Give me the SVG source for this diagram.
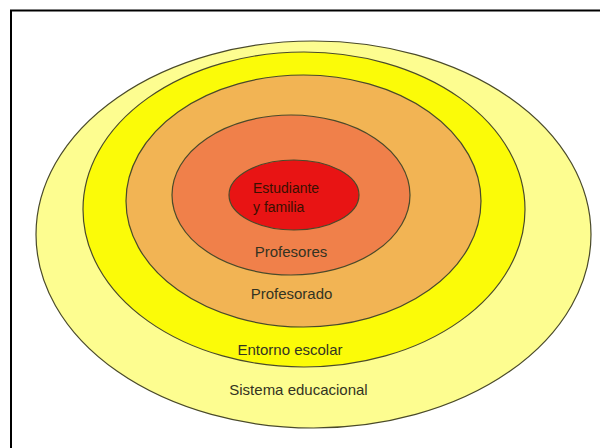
<svg xmlns="http://www.w3.org/2000/svg" width="600" height="448" viewBox="0 0 600 448">
  <style>
    .ring { stroke: #4a4a2a; stroke-width: 1.2; }
    .lbl { font-family: "Liberation Sans", Arial, sans-serif; font-size: 15px; fill: #333322; text-anchor: middle; }
    .inner { font-family: "Liberation Sans", Arial, sans-serif; font-size: 14px; fill: #3a1000; }
  </style>
  <rect x="0" y="0" width="600" height="448" fill="#ffffff"/>
  <rect x="11" y="10.5" width="640" height="480" fill="none" stroke="#000000" stroke-width="2"/>
  <g id="sistema-educacional">
    <ellipse class="ring" cx="313.5" cy="234.5" rx="277.5" ry="193.5" fill="#fdfd90"/>
    <text class="lbl" x="298.5" y="395">Sistema educacional</text>
  </g>
  <g id="entorno-escolar">
    <ellipse class="ring" cx="304" cy="209.5" rx="221" ry="157.5" fill="#fbfb08"/>
    <text class="lbl" x="290" y="355">Entorno escolar</text>
  </g>
  <g id="profesorado">
    <ellipse class="ring" cx="303.5" cy="201" rx="177.5" ry="126" fill="#f2b454"/>
    <text class="lbl" x="291.5" y="299">Profesorado</text>
  </g>
  <g id="profesores">
    <ellipse class="ring" cx="291" cy="195" rx="119" ry="80" fill="#f0804a"/>
    <text class="lbl" x="291" y="257">Profesores</text>
  </g>
  <g id="estudiante-familia">
    <ellipse class="ring" cx="294" cy="195" rx="65" ry="35" fill="#e81414"/>
    <text class="inner" x="253" y="193">Estudiante</text>
    <text class="inner" x="253" y="212">y familia</text>
  </g>
  <g id="connectors"/>
</svg>
